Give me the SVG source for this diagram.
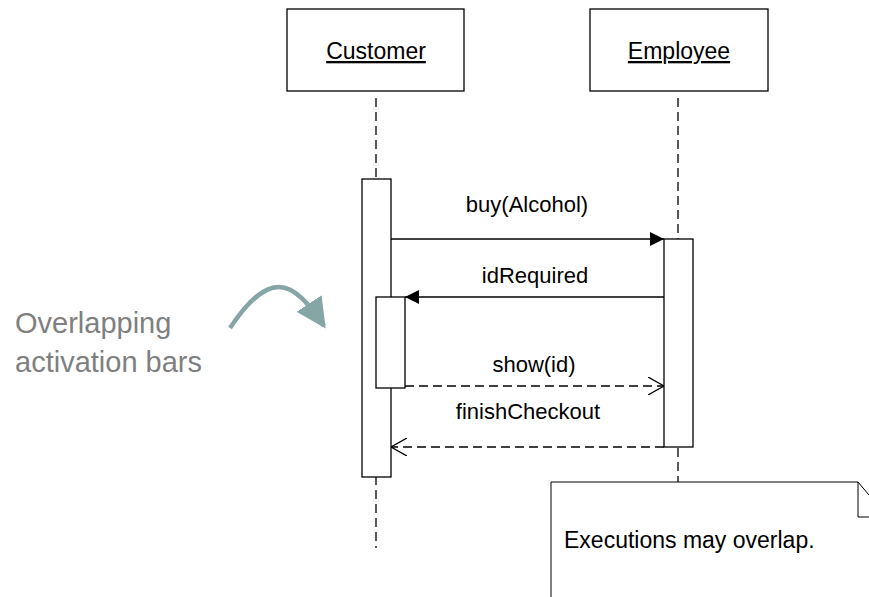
<svg xmlns="http://www.w3.org/2000/svg" width="869" height="597" viewBox="0 0 869 597">
<style>
.box{fill:#fff;stroke:#000;stroke-width:1.3}
.life{stroke:#000;stroke-width:1.3;stroke-dasharray:9 5;fill:none}
.msg{stroke:#000;stroke-width:1.3;fill:none}
.ret{stroke:#000;stroke-width:1.3;fill:none;stroke-dasharray:9 5}
.t{font-family:"Liberation Sans",Arial,sans-serif;font-size:22px;fill:#000}
.h{font-size:23px}
.c{text-anchor:middle}
.g{font-family:"Liberation Sans",Arial,sans-serif;font-size:29px;fill:#7f7f7f}
</style>
<defs>
<marker id="filled" viewBox="0 0 14 14" refX="14" refY="7" markerWidth="14" markerHeight="14" markerUnits="userSpaceOnUse" orient="auto">
<path d="M0,0 L14,7 L0,14 Z" fill="#000"/>
</marker>
<marker id="open" viewBox="0 0 16 18" refX="16" refY="9" markerWidth="16" markerHeight="18" markerUnits="userSpaceOnUse" orient="auto">
<path d="M0,0 L16,9 L0,18" fill="none" stroke="#000" stroke-width="1.3"/>
</marker>
<marker id="teal" viewBox="0 0 10 10" refX="9" refY="5" markerWidth="30" markerHeight="30" markerUnits="userSpaceOnUse" orient="auto">
<path d="M0,0 L10,5 L0,10 Z" fill="#86a6a6"/>
</marker>
</defs>
<g id="lifelines">
<line class="life" x1="376" y1="98" x2="376" y2="548"/>
<line class="life" x1="678" y1="98" x2="678" y2="482"/>
</g>
<g id="customer">
<rect class="box" x="287" y="9" width="177" height="82"/>
<text class="t h c" x="376" y="59" text-decoration="underline">Customer</text>
</g>
<g id="employee">
<rect class="box" x="590" y="9" width="178" height="82"/>
<text class="t h c" x="679" y="59" text-decoration="underline">Employee</text>
</g>
<g id="customer-activation">
<rect class="box" x="362" y="179" width="29" height="298"/>
</g>
<g id="employee-activation">
<rect class="box" x="664" y="239" width="29" height="208"/>
</g>
<g id="nested-activation">
<rect class="box" x="376" y="297" width="29" height="91"/>
</g>
<g id="connectors">
<line class="msg" x1="391" y1="239" x2="664" y2="239" marker-end="url(#filled)"/>
<line class="msg" x1="664" y1="297" x2="405" y2="297" marker-end="url(#filled)"/>
<line class="ret" x1="405" y1="386" x2="664" y2="386" marker-end="url(#open)"/>
<line class="ret" x1="664" y1="447" x2="391" y2="447" marker-end="url(#open)"/>
<path d="M230,328 C250,298 265,287 279,287 C295,287 310,305 324,326" fill="none" stroke="#86a6a6" stroke-width="4.5" marker-end="url(#teal)"/>
</g>
<g id="labels">
<text class="t c" x="527" y="212">buy(Alcohol)</text>
<text class="t c" x="535" y="283">idRequired</text>
<text class="t c" x="534" y="372">show(id)</text>
<text class="t c" x="528" y="419">finishCheckout</text>
<text class="g" x="15" y="333">Overlapping</text>
<text class="g" x="15" y="372">activation bars</text>
</g>
<g id="note">
<path d="M551,597 L551,482 L858,482 L869,494 L869,597" fill="#fff" stroke="none"/>
<path d="M551,597 L551,482 L858,482 L869,495" fill="none" stroke="#000" stroke-width="1"/>
<path d="M858,482 L858,517 L869,517" fill="none" stroke="#000" stroke-width="1"/>
<text class="t" x="564" y="548" style="font-size:23px">Executions may overlap.</text>
</g>
</svg>
